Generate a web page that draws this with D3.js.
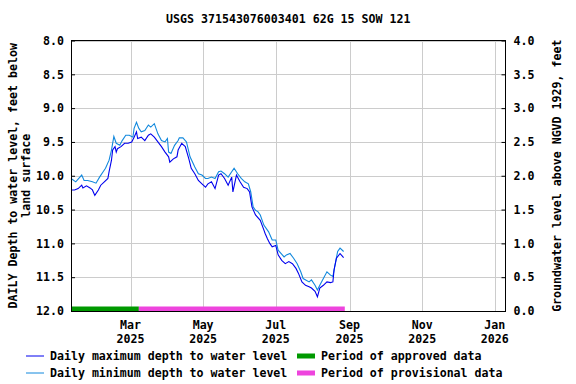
<!DOCTYPE html>
<html>
<head>
<meta charset="utf-8">
<script src="https://cdn.jsdelivr.net/npm/d3@7"></script>
<style>
  html, body { margin: 0; padding: 0; background: #fff; }
  svg text { font-family: "DejaVu Sans Mono", monospace; font-weight: bold; font-size: 11.6px; fill: #000; }
</style>
</head>
<body>
<svg id="chart" width="576" height="384"></svg>
<script>
const titleText = "USGS 371543076003401 62G 15 SOW 121";
const leftTitle = ["DAILY Depth to water level, feet below", "land surface"];
const rightTitle = "Groundwater level above NGVD 1929, feet";

const xDomain = ["2025-01-10", "2026-01-10"];
const xTickDates = ["2025-03-01", "2025-05-01", "2025-07-01", "2025-09-01", "2025-11-01", "2026-01-01"];
const xTickMonths = ["Mar", "May", "Jul", "Sep", "Nov", "Jan"];
const xTickYears = ["2025", "2025", "2025", "2025", "2025", "2026"];

const leftTicks = [8.0, 8.5, 9.0, 9.5, 10.0, 10.5, 11.0, 11.5, 12.0];
const rightTicks = [0.0, 0.5, 1.0, 1.5, 2.0, 2.5, 3.0, 3.5, 4.0];

const maxDates = ["2025-01-10","2025-01-13","2025-01-16","2025-01-19","2025-01-20","2025-01-23","2025-01-26","2025-01-28","2025-01-30",
  "2025-02-02","2025-02-04","2025-02-07","2025-02-10","2025-02-11","2025-02-13","2025-02-14","2025-02-16","2025-02-17","2025-02-18",
  "2025-02-21","2025-02-24","2025-02-27","2025-03-02","2025-03-04","2025-03-06","2025-03-07","2025-03-10","2025-03-13","2025-03-16",
  "2025-03-18","2025-03-21","2025-03-24","2025-03-27","2025-03-30","2025-04-02","2025-04-03","2025-04-06","2025-04-09","2025-04-10",
  "2025-04-13","2025-04-16","2025-04-19","2025-04-21","2025-04-24","2025-04-27","2025-04-30","2025-05-03","2025-05-05","2025-05-08",
  "2025-05-11","2025-05-14","2025-05-16","2025-05-19","2025-05-22","2025-05-25","2025-05-26","2025-05-29","2025-06-01","2025-06-04",
  "2025-06-07","2025-06-09","2025-06-11","2025-06-14","2025-06-18","2025-06-21","2025-06-22","2025-06-24","2025-06-26","2025-06-28",
  "2025-07-01","2025-07-03","2025-07-06","2025-07-09","2025-07-12","2025-07-15","2025-07-18","2025-07-20","2025-07-23","2025-07-26",
  "2025-07-29","2025-07-31","2025-08-03","2025-08-05","2025-08-07","2025-08-10","2025-08-13","2025-08-16","2025-08-18","2025-08-19",
  "2025-08-21","2025-08-24","2025-08-27"];
const maxValues = [10.21,10.21,10.19,10.14,10.18,10.15,10.18,10.21,10.29,
  10.21,10.14,10.09,10.04,9.94,9.77,9.62,9.57,9.65,9.60,
  9.57,9.52,9.52,9.50,9.43,9.35,9.45,9.43,9.48,9.40,
  9.38,9.43,9.50,9.57,9.65,9.72,9.80,9.75,9.72,9.62,
  9.52,9.57,9.75,9.89,9.97,10.07,10.12,10.17,10.12,10.09,
  10.19,9.99,9.97,10.04,10.14,10.02,10.24,9.99,10.09,10.17,
  10.19,10.24,10.46,10.58,10.66,10.80,10.85,10.93,11.00,11.05,
  11.03,11.17,11.25,11.30,11.27,11.30,11.37,11.44,11.57,11.62,
  11.64,11.66,11.71,11.79,11.66,11.62,11.57,11.58,11.57,11.39,
  11.22,11.15,11.21];

const minDates = ["2025-01-10","2025-01-14","2025-01-19","2025-01-21","2025-01-24","2025-01-28","2025-01-31","2025-02-03","2025-02-06",
  "2025-02-08","2025-02-11","2025-02-13","2025-02-15","2025-02-17","2025-02-20","2025-02-22","2025-02-25","2025-02-28","2025-03-03",
  "2025-03-04","2025-03-06","2025-03-08","2025-03-10","2025-03-13","2025-03-16","2025-03-18","2025-03-21","2025-03-24","2025-03-27",
  "2025-03-30","2025-04-01","2025-04-02","2025-04-04","2025-04-07","2025-04-10","2025-04-11","2025-04-14","2025-04-17","2025-04-20",
  "2025-04-24","2025-04-27","2025-04-30","2025-05-03","2025-05-05","2025-05-08","2025-05-11","2025-05-14","2025-05-16","2025-05-19",
  "2025-05-22","2025-05-25","2025-05-27","2025-05-30","2025-06-02","2025-06-05","2025-06-08","2025-06-10","2025-06-12","2025-06-14",
  "2025-06-16","2025-06-18","2025-06-21","2025-06-25","2025-06-28","2025-07-01","2025-07-03","2025-07-08","2025-07-10","2025-07-13",
  "2025-07-16","2025-07-19","2025-07-22","2025-07-24","2025-07-29","2025-07-31","2025-08-03","2025-08-05","2025-08-07","2025-08-10",
  "2025-08-13","2025-08-16","2025-08-18","2025-08-20","2025-08-22","2025-08-24","2025-08-27"];
const minValues = [10.04,10.09,9.99,10.07,10.07,10.09,10.11,10.02,9.94,
  9.89,9.77,9.62,9.42,9.52,9.55,9.48,9.40,9.40,9.43,
  9.30,9.21,9.30,9.35,9.33,9.25,9.28,9.23,9.38,9.48,
  9.50,9.45,9.65,9.67,9.55,9.48,9.44,9.44,9.50,9.72,
  9.87,9.97,9.99,10.04,10.04,10.02,10.04,9.94,9.93,9.97,
  10.02,9.94,9.89,9.97,10.04,10.09,10.12,10.24,10.46,10.51,
  10.53,10.58,10.73,10.83,10.95,10.95,11.10,11.20,11.17,11.15,
  11.22,11.30,11.42,11.52,11.57,11.54,11.62,11.69,11.62,11.52,
  11.42,11.47,11.49,11.30,11.12,11.07,11.12];

const periodNames = ["Period of approved data", "Period of provisional data"];
const periodStarts = ["2025-01-10", "2025-03-08"];
const periodEnds = ["2025-03-08", "2025-08-28"];

const seriesNames = ["Daily maximum depth to water level", "Daily minimum depth to water level"];

// styles
const seriesColors = ["#0000ee", "#1188dd"];
const periodColors = ["#009900", "#ee44dd"];

const parse = d3.utcParse("%Y-%m-%d");
const svg = d3.select("#chart");
const L = 71, R = 505.5, T = 40.5, B = 311;

const x = d3.scaleUtc().domain(xDomain.map(parse)).range([L, R]);
const y = d3.scaleLinear().domain([8, 12]).range([T, B]);
const y2 = d3.scaleLinear().domain([0, 4]).range([B, T]);

// gridlines
const grid = svg.append("g").attr("stroke", "#cccccc").attr("stroke-width", 1).attr("shape-rendering", "crispEdges");
leftTicks.forEach(v => grid.append("line").attr("x1", L).attr("x2", R).attr("y1", Math.round(y(v)) + 0.5).attr("y2", Math.round(y(v)) + 0.5));
xTickDates.forEach(d => grid.append("line").attr("x1", Math.round(x(parse(d))) + 0.5).attr("x2", Math.round(x(parse(d))) + 0.5).attr("y1", T).attr("y2", B));

// period bars
periodNames.forEach((n, i) => {
  svg.append("rect")
    .attr("x", x(parse(periodStarts[i])))
    .attr("width", x(parse(periodEnds[i])) - x(parse(periodStarts[i])))
    .attr("y", y(12) - 4.5).attr("height", 4.5)
    .attr("fill", periodColors[i]);
});

// lines
const line = d3.line().x(d => x(d[0])).y(d => y(d[1]));
const minData = minDates.map((d, i) => [parse(d), minValues[i]]);
const maxData = maxDates.map((d, i) => [parse(d), maxValues[i]]);
svg.append("path").datum(minData).attr("d", line).attr("fill", "none").attr("stroke", seriesColors[1]).attr("stroke-width", 1.1);
svg.append("path").datum(maxData).attr("d", line).attr("fill", "none").attr("stroke", seriesColors[0]).attr("stroke-width", 1.1);

// frame
svg.append("rect").attr("x", L + 0.5).attr("y", T).attr("width", R - L - 0.5).attr("height", B - T)
  .attr("fill", "none").attr("stroke", "#000").attr("stroke-width", 1).attr("shape-rendering", "crispEdges");

// left axis
const la = svg.append("g").attr("transform", `translate(${L},0)`)
  .call(d3.axisLeft(y).tickValues(leftTicks).tickFormat(d3.format(".1f")).tickSize(-4).tickPadding(7));
la.select(".domain").remove();
la.selectAll("text").style("font-size", "11.6px");

// right axis
const ra = svg.append("g").attr("transform", `translate(${R},0)`)
  .call(d3.axisRight(y2).tickValues(rightTicks).tickFormat(d3.format(".1f")).tickSize(-4).tickPadding(8));
ra.select(".domain").remove();
ra.selectAll("text").style("font-size", "11.6px");

// bottom axis labels
const xa = svg.append("g");
xTickDates.forEach((d, i) => {
  const px = x(parse(d));
  xa.append("text").attr("x", px).attr("y", 329).attr("text-anchor", "middle").text(xTickMonths[i]);
  xa.append("text").attr("x", px).attr("y", 343).attr("text-anchor", "middle").text(xTickYears[i]);
});

// title
svg.append("text").attr("x", (L + R) / 2).attr("y", 23).attr("text-anchor", "middle").text(titleText);

// left title
const ly = (T + B) / 2;
leftTitle.forEach((t, i) => {
  svg.append("text").attr("transform", `translate(${17 + i * 13},${ly}) rotate(-90)`).attr("text-anchor", "middle").text(t);
});
svg.append("text").attr("transform", `translate(561,${ly}) rotate(-90)`).attr("text-anchor", "middle").text(rightTitle);

// legend
const leg = svg.append("g");
seriesNames.forEach((n, i) => {
  const yy = 356 + i * 17;
  leg.append("line").attr("x1", 26).attr("x2", 44).attr("y1", yy).attr("y2", yy).attr("stroke", seriesColors[i]).attr("stroke-width", 1);
  leg.append("text").attr("x", 50).attr("y", yy + 4).text(n);
});
periodNames.forEach((n, i) => {
  const yy = 356 + i * 17;
  leg.append("rect").attr("x", 297).attr("y", yy - 2.5).attr("width", 18).attr("height", 5).attr("fill", periodColors[i]);
  leg.append("text").attr("x", 321).attr("y", yy + 4).text(n);
});
</script>
</body>
</html>
